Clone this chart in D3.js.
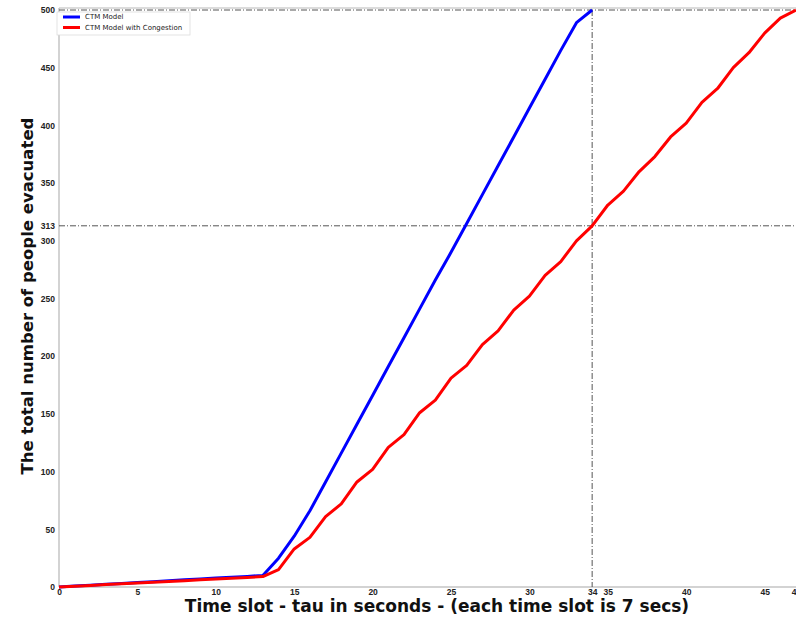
<!DOCTYPE html>
<html>
<head>
<meta charset="utf-8">
<script src="https://cdn.jsdelivr.net/npm/d3@7"></script>
<style>
  body { margin: 0; background: #fff; }
  svg { display: block; font-family: "DejaVu Sans", sans-serif; }
  .axis text { font-size: 8.5px; font-weight: bold; fill: #222; }
  .axis path, .axis line { stroke: none; }
</style>
</head>
<body>
<div id="chart"></div>
<script>
  // time slots and evacuated counts
  var slots = [0,1,2,3,4,5,6,7,8,9,10,11,12,13,14,15,16,17,18,19,20,21,22,23,24,25,26,27,28,29,30,31,32,33,34,35,36,37,38,39,40,41,42,43,44,45,46,47]
  var ctmModel = [0,0.8,1.5,2.3,3.1,3.8,4.6,5.4,6.2,6.9,7.7,8.5,9.2,10,25,44,66,91,116,141,166,191,216,241,266,290,315,340,365,390,415,440,465,489,500]
  var ctmCongestion = [0,0.7,1.4,2.1,2.8,3.5,4.2,4.8,5.5,6.2,6.9,7.6,8.3,9,15,33,43,61,72,91,102,121,132,151,162,181,192,210,222,240,252,270,282,300,313,331,343,360,373,390,402,420,432,450,463,480,493,500]
  var seriesNames = ["CTM Model", "CTM Model with Congestion"]
  var seriesColors = ["#0000ff", "#ff0000"]
  var xTicks = [0,5,10,15,20,25,30,34,35,40,45,47]
  var yTicks = [0,50,100,150,200,250,300,313,350,400,450,500]
  var markX = 34
  var markY = 313
  var topY = 500

  var margin = { top: 10, left: 59, right: 0, bottom: 30 }
  var widthSvg = 796
  var heightSvg = 617
  var widthScale = widthSvg - margin.left - margin.right
  var heightScale = heightSvg - margin.top - margin.bottom

  var mainSvg = d3.select("#chart").append("svg")
    .attr("width", widthSvg)
    .attr("height", heightSvg)

  var mainG = mainSvg.append("g")
    .attr("transform", "translate(" + margin.left + "," + margin.top + ")")

  var xPositionScale = d3.scaleLinear().domain([0, 47]).range([0, widthScale])
  var yPositionScale = d3.scaleLinear().domain([0, 500]).range([heightScale, 0])

  // spines
  mainG.append("line")
    .attr("x1", 0).attr("x2", widthScale)
    .attr("y1", -2).attr("y2", -2)
    .attr("stroke", "#d0d0d0").attr("stroke-width", 1.5)
  mainG.append("line")
    .attr("x1", 0).attr("x2", 0)
    .attr("y1", -2).attr("y2", heightScale)
    .attr("stroke", "#c4c4c4").attr("stroke-width", 1.5)
  mainG.append("line")
    .attr("x1", 0).attr("x2", widthScale)
    .attr("y1", heightScale).attr("y2", heightScale)
    .attr("stroke", "#c4c4c4").attr("stroke-width", 1.5)

  // axes
  var xAxis = d3.axisBottom(xPositionScale)
    .tickValues(xTicks)
    .tickSize(0)
    .tickPadding(2)
    .tickFormat(d3.format("d"))
  mainG.append("g")
    .attr("class", "axis x-axis")
    .attr("transform", "translate(0," + heightScale + ")")
    .call(xAxis)

  var yAxis = d3.axisLeft(yPositionScale)
    .tickValues(yTicks)
    .tickSize(0)
    .tickPadding(4)
    .tickFormat(d3.format("d"))
  mainG.append("g")
    .attr("class", "axis y-axis")
    .call(yAxis)

  // reference lines
  var dash = "6,2,1,2"
  mainG.append("line")
    .attr("x1", 0).attr("x2", widthScale)
    .attr("y1", yPositionScale(topY)).attr("y2", yPositionScale(topY))
    .attr("stroke", "#555").attr("stroke-width", 1).attr("stroke-dasharray", dash)
  mainG.append("line")
    .attr("x1", 0).attr("x2", widthScale)
    .attr("y1", yPositionScale(markY)).attr("y2", yPositionScale(markY))
    .attr("stroke", "#555").attr("stroke-width", 1).attr("stroke-dasharray", dash)
  mainG.append("line")
    .attr("x1", xPositionScale(markX)).attr("x2", xPositionScale(markX))
    .attr("y1", yPositionScale(topY)).attr("y2", heightScale)
    .attr("stroke", "#555").attr("stroke-width", 1).attr("stroke-dasharray", dash)

  // series
  var line = d3.line()
    .x(function(d, i) { return xPositionScale(slots[i]) })
    .y(function(d) { return yPositionScale(d) })

  mainG.append("path")
    .datum(ctmModel)
    .attr("d", line)
    .attr("fill", "none")
    .attr("stroke", seriesColors[0])
    .attr("stroke-width", 3)
    .attr("stroke-linejoin", "round")

  mainG.append("path")
    .datum(ctmCongestion)
    .attr("d", line)
    .attr("fill", "none")
    .attr("stroke", seriesColors[1])
    .attr("stroke-width", 3)
    .attr("stroke-linejoin", "round")

  // legend
  var legend = mainSvg.append("g")
    .attr("transform", "translate(57,12)")
  legend.append("rect")
    .attr("width", 133).attr("height", 23)
    .attr("fill", "#fff").attr("stroke", "#ddd").attr("stroke-width", 0.8)
  seriesNames.forEach(function(name, i) {
    legend.append("line")
      .attr("x1", 6).attr("x2", 23)
      .attr("y1", 5 + i * 10.5).attr("y2", 5 + i * 10.5)
      .attr("stroke", seriesColors[i]).attr("stroke-width", 3)
    legend.append("text")
      .attr("x", 28).attr("y", 5 + i * 10.5)
      .attr("dy", "0.35em")
      .attr("font-size", 7)
      .attr("fill", "#222")
      .text(name)
  })

  // axis titles
  mainSvg.append("text")
    .attr("x", 437).attr("y", 612)
    .attr("text-anchor", "middle")
    .attr("font-size", 17)
    .attr("font-weight", "bold")
    .attr("fill", "#111")
    .text("Time slot - tau in seconds - (each time slot is 7 secs)")

  mainSvg.append("text")
    .attr("transform", "translate(33,296) rotate(-90)")
    .attr("text-anchor", "middle")
    .attr("font-size", 16.5)
    .attr("font-weight", "bold")
    .attr("fill", "#111")
    .text("The total number of people evacuated")
</script>
</body>
</html>
